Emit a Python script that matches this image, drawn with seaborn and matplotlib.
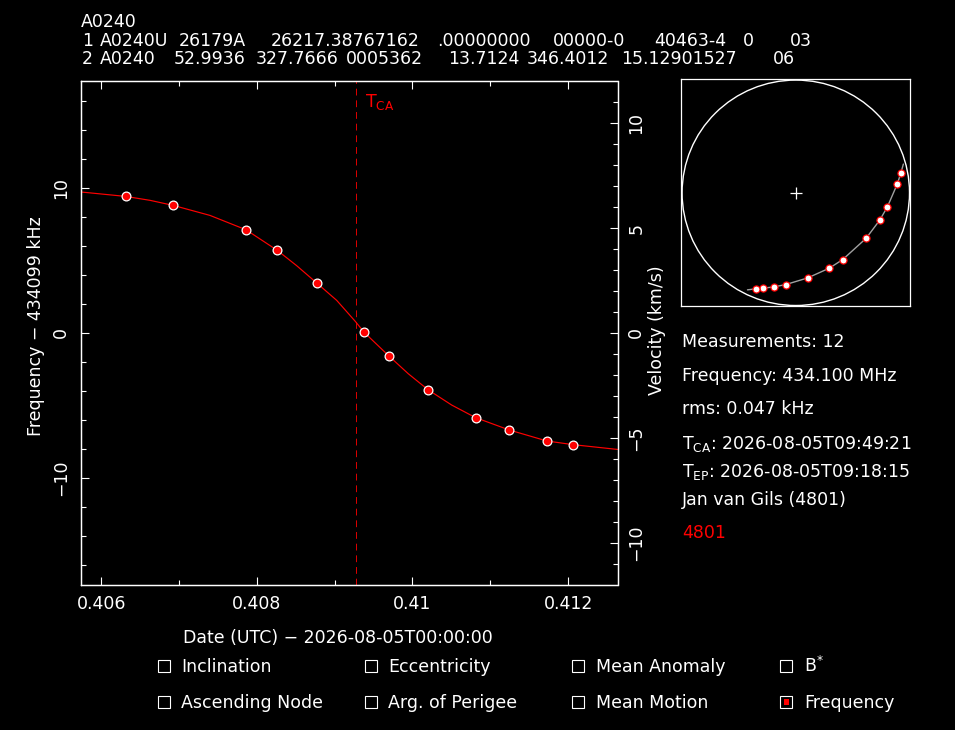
import matplotlib
matplotlib.use("Agg")

import matplotlib.pyplot as plt
from matplotlib.patches import Circle, Rectangle
import seaborn as sns

W, H = 955, 730
FONT = 12.5

# measured Doppler points: day fraction since 2026-08-05T00:00:00, offset in kHz
OBS_T = [0.406314, 0.406925, 0.407860, 0.408262, 0.408769, 0.409380,
         0.409694, 0.410199, 0.410812, 0.411244, 0.411729, 0.412063]
OBS_DF = [9.42, 8.80, 7.12, 5.70, 3.45, 0.04,
          -1.57, -3.91, -5.84, -6.69, -7.45, -7.70]

CURVE_T = [0.405748, 0.406314, 0.406626, 0.406925, 0.407397, 0.407860,
           0.408262, 0.408512, 0.408769, 0.409026, 0.409265, 0.409380,
           0.409694, 0.409946, 0.410199, 0.410504, 0.410812, 0.411244,
           0.411729, 0.412063, 0.412635]
CURVE_DF = [9.72, 9.42, 9.15, 8.80, 8.11, 7.12,
            5.70, 4.64, 3.45, 2.25, 0.80, 0.04,
            -1.57, -2.81, -3.91, -4.97, -5.84, -6.69,
            -7.45, -7.70, -8.03]

FREQ_MHZ = 434.100
KMS_PER_KHZ = 299792.458 / (FREQ_MHZ * 1000.0)
TCA = 0.409271

# sky track (horizon circle = 1)
SKY_U = [0.925, 0.893, 0.805, 0.738, 0.618, 0.413, 0.296, 0.105, -0.088, -0.193, -0.287, -0.351]
SKY_V = [0.179, 0.079, -0.126, -0.243, -0.404, -0.592, -0.668, -0.755, -0.814, -0.835, -0.846, -0.852]
TRACK_U = [0.946] + SKY_U + [-0.425]
TRACK_V = [0.255] + SKY_V + [-0.861]

TLE_NAME = "A0240"
TLE_LINE1 = [("1", 82), ("A0240U", 100), ("26179A", 179), ("26217.38767162", 271),
             (".00000000", 437), ("00000-0", 553), ("40463-4", 654), ("0", 743), ("03", 790)]
TLE_LINE2 = [("2", 82), ("A0240", 100), ("52.9936", 174), ("327.7666", 256),
             ("0005362", 346), ("13.7124", 448), ("346.4012", 527),
             ("15.12901527", 621), ("06", 773)]

INFO_LINES = [
    ("Measurements: 12", "white"),
    ("Frequency: 434.100 MHz", "white"),
    ("rms: 0.047 kHz", "white"),
    (r"T$_{\rm CA}$: 2026-08-05T09:49:21", "white"),
    (r"T$_{\rm EP}$: 2026-08-05T09:18:15", "white"),
    ("Jan van Gils (4801)", "white"),
    ("4801", "red"),
]
INFO_BASE = [347, 381, 414, 449, 477, 505, 538]

CHECK_LABELS = [["Inclination", "Eccentricity", "Mean Anomaly", r"B$^{*}$"],
                ["Ascending Node", "Arg. of Perigee", "Mean Motion", "Frequency"]]
CHECK_ON = "Frequency"


def fx(x):
    return x / W


def fy(y):
    return 1 - y / H


def put(fig, x, y, s, **kw):
    kw.setdefault("color", "white")
    kw.setdefault("fontsize", FONT)
    kw.setdefault("va", "baseline")
    fig.text(fx(x), fy(y), s, **kw)


def main():
    sns.set_style("ticks", {"axes.facecolor": "black", "figure.facecolor": "black",
                            "axes.edgecolor": "white", "xtick.color": "white",
                            "ytick.color": "white", "text.color": "white"})
    plt.rcParams["font.family"] = ["DejaVu Sans"]
    plt.rcParams["mathtext.fontset"] = "dejavusans"

    fig = plt.figure(figsize=(W / 100, H / 100), dpi=100, facecolor="black")

    # ---- main Doppler panel
    ax = fig.add_axes([fx(81.3), fy(585), (617.5 - 81.3) / W, (585 - 81) / H])
    ax.set_facecolor("black")
    ax.axvline(TCA, color="#e00000", lw=0.7, dashes=(7, 5))
    sns.lineplot(x=CURVE_T, y=CURVE_DF, sort=False, color="red", lw=0.85, ax=ax)
    sns.scatterplot(x=OBS_T, y=OBS_DF, s=40, color="red", edgecolor="white",
                    linewidth=0.9, ax=ax, zorder=4)
    ax.set_xlim(0.405743, 0.412635)
    flim = 17.38
    ax.set_ylim(-flim, flim)
    ax.set_xticks([0.406, 0.408, 0.410, 0.412], ["0.406", "0.408", "0.41", "0.412"])
    ax.set_xticks([0.407, 0.409, 0.411], minor=True)
    ax.set_yticks([-10, 0, 10], ["\u221210", "0", "10"])
    ax.set_yticks([-16, -14, -12, -8, -6, -4, -2, 2, 4, 6, 8, 12, 14, 16], minor=True)
    ax.tick_params(which="both", direction="in", top=True, right=False, colors="white",
                   labelsize=FONT, width=0.8)
    ax.tick_params(which="major", length=6)
    ax.tick_params(which="minor", length=3.5)
    ax.tick_params(axis="x", pad=7)
    ax.tick_params(axis="y", pad=8)
    for lbl in ax.get_yticklabels():
        lbl.set_rotation(90)
        lbl.set_va("center")
    for sp in ax.spines.values():
        sp.set_color("white")
        sp.set_linewidth(0.9)
    ax.set_xlabel("")
    ax.set_ylabel("")

    ax2 = ax.twinx()
    ax2.set_ylim(-flim * KMS_PER_KHZ, flim * KMS_PER_KHZ)
    ax2.set_yticks([-10, -5, 0, 5, 10], ["\u221210", "\u22125", "0", "5", "10"])
    ax2.set_yticks([v for v in range(-11, 12) if v % 5 != 0], minor=True)
    ax2.tick_params(which="both", direction="in", colors="white", labelsize=FONT,
                    width=0.8, pad=7)
    ax2.tick_params(which="major", length=6)
    ax2.tick_params(which="minor", length=3.5)
    for lbl in ax2.get_yticklabels():
        lbl.set_rotation(90)
        lbl.set_va("center")
    for sp in ax2.spines.values():
        sp.set_color("white")
        sp.set_linewidth(0.9)

    put(fig, 365, 107, r"T$_{\rm CA}$", color="red")
    fig.text(fx(36), fy(326), "Frequency \u2212 434099 kHz", color="white", fontsize=FONT,
             rotation=90, ha="center", va="center")
    fig.text(fx(657), fy(330), "Velocity (km/s)", color="white", fontsize=FONT,
             rotation=90, ha="center", va="center")
    put(fig, 183, 643, "Date (UTC) \u2212 2026-08-05T00:00:00")

    # ---- header (TLE)
    put(fig, 81, 27, TLE_NAME)
    for tok, x in TLE_LINE1:
        put(fig, x, 45.5, tok)
    for tok, x in TLE_LINE2:
        put(fig, x, 63.5, tok)

    # ---- sky track panel
    sx = fig.add_axes([fx(681.3), fy(306.3), (910.3 - 681.3) / W, (306.3 - 79.3) / H])
    sx.set_facecolor("black")
    sx.add_patch(Circle((0, 0), 1.0, fill=False, edgecolor="white", lw=1.0))
    sx.plot([0], [0], marker="+", color="white", ms=8, mew=0.9)
    sns.lineplot(x=TRACK_U, y=TRACK_V, sort=False, color="#a0a0a0", lw=1.0, ax=sx)
    sns.scatterplot(x=SKY_U, y=SKY_V, s=26, color="white", edgecolor="red",
                    linewidth=0.9, ax=sx, zorder=4)
    sx.set_xlim(-1.007, 1.007)
    sx.set_ylim(-1.007, 1.007)
    sx.set_xticks([])
    sx.set_yticks([])
    sx.set_xlabel("")
    sx.set_ylabel("")
    for sp in sx.spines.values():
        sp.set_color("white")
        sp.set_linewidth(0.9)

    # ---- info text
    for (txt, col), base in zip(INFO_LINES, INFO_BASE):
        put(fig, 682, base, txt, color=col)

    # ---- element checkboxes
    box_x = [158, 365, 572, 780]
    text_x = [181, 388, 596, 804]
    base_y = [672, 708]
    for r, row in enumerate(CHECK_LABELS):
        for c, lab in enumerate(row):
            b = base_y[r]
            fig.add_artist(Rectangle((fx(box_x[c]), fy(b)), 12 / W, 12.5 / H,
                                     transform=fig.transFigure, fill=False,
                                     edgecolor="white", lw=0.8))
            if lab == CHECK_ON:
                fig.add_artist(Rectangle((fx(box_x[c] + 3.5), fy(b - 3.5)), 5.5 / W, 5.5 / H,
                                         transform=fig.transFigure, facecolor="red",
                                         edgecolor="none"))
            put(fig, text_x[c], b, lab)

    fig.savefig("out.png", dpi=100, facecolor="black")
    plt.close("all")


if __name__ == "__main__":
    main()
